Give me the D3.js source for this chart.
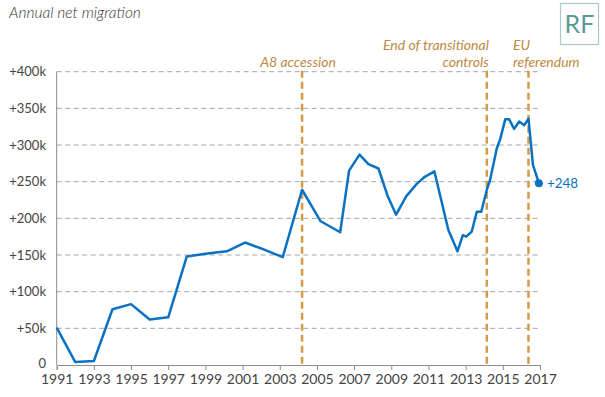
<!DOCTYPE html>
<html>
<head>
<meta charset="utf-8">
<script src="https://cdn.jsdelivr.net/npm/d3@7"></script>
<style>
  body { margin: 0; background: #fff; }
  text { font-family: Lato, "Open Sans", sans-serif; }
</style>
</head>
<body>
<div id="vis"></div>
<script>
// data (decimal years, thousands)
var years = [1991, 1992, 1993, 1994, 1995, 1996, 1997, 1998, 1999.1, 2000.15,
             2001.13, 2002.1, 2003.16, 2004.2, 2005.2, 2006.25, 2006.73, 2007.29, 2007.77, 2008.31,
             2008.81, 2009.26, 2009.8, 2010.37, 2010.82, 2011.32, 2012.07, 2012.56, 2012.85, 2013.03,
             2013.33, 2013.6, 2013.84, 2014.14, 2014.32, 2014.68, 2014.86, 2015.13, 2015.34, 2015.61,
             2015.88, 2016.15, 2016.38, 2016.62, 2016.94];
var netMigration = [51, 4, 5.5, 76, 83, 62, 65, 148, 152, 155,
                    167, 158, 147, 239, 196, 181, 265, 287, 274, 268,
                    230, 205, 230, 247, 257, 264, 184, 155, 177, 175,
                    182, 209, 209, 239, 253, 296, 308, 335, 335, 322,
                    332, 327, 336, 273, 248];
var xTicks = [1991, 1993, 1995, 1997, 1999, 2001, 2003, 2005, 2007, 2009, 2011, 2013, 2015, 2017];
var yTicks = [0, 50, 100, 150, 200, 250, 300, 350, 400];
var eventDates = [2004.2, 2014.14, 2016.38];
var eventLabels = [["A8 accession"], ["End of transitional", "controls"], ["EU", "referendum"]];
var lastLabel = "+248";

var w = 605, h = 397;
var mLeft = 56.7, mRight = 540, mTop = 71.7, mBottom = 365;

var svg = d3.select("#vis").append("svg")
    .attr("width", w)
    .attr("height", h);

var x = d3.scaleLinear().domain([1991, 2017]).range([mLeft, mRight]);
var y = d3.scaleLinear().domain([0, 400]).range([mBottom, mTop]);

// title
svg.append("text")
   .attr("x", 9).attr("y", 18)
   .attr("font-size", "15.5px")
   .attr("font-style", "italic")
   .attr("font-weight", 300)
   .attr("fill", "#333")
   .text("Annual net migration");

// RF logo
svg.append("rect")
   .attr("x", 560.5).attr("y", 3.5)
   .attr("width", 38).attr("height", 41)
   .attr("fill", "#fff")
   .attr("stroke", "#a8c8c6")
   .attr("stroke-width", 1.2);
svg.append("text")
   .attr("x", 579.5).attr("y", 33)
   .attr("text-anchor", "middle")
   .attr("font-size", "25px")
   .attr("fill", "#5e9896")
   .text("RF");

// gridlines
svg.selectAll("line.grid")
   .data(yTicks.filter(function(d) { return d > 0; }))
   .enter()
   .append("line")
   .attr("class", "grid")
   .attr("x1", mLeft).attr("x2", mRight)
   .attr("y1", function(d) { return y(d); })
   .attr("y2", function(d) { return y(d); })
   .attr("stroke", "#a6a6a6")
   .attr("stroke-dasharray", "5,3.5");

// y labels
svg.selectAll("text.ylab")
   .data(yTicks)
   .enter()
   .append("text")
   .attr("class", "ylab")
   .attr("x", 46)
   .attr("y", function(d) { return y(d) + (d === 0 ? 2.5 : 4.5); })
   .attr("text-anchor", "end")
   .attr("font-size", "13px")
   .attr("fill", "#444")
   .text(function(d) { return d === 0 ? "0" : "+" + d + "k"; });

// axes
var xAxis = svg.append("g")
   .attr("transform", "translate(0," + mBottom + ")")
   .call(d3.axisBottom(x).tickValues(xTicks).tickFormat(d3.format("d")).tickSize(5).tickPadding(4));
xAxis.select(".domain").attr("stroke", "#8c8c8c");
xAxis.selectAll(".tick line").attr("stroke", "#8c8c8c");
xAxis.selectAll(".tick text")
   .attr("font-family", "Lato, sans-serif")
   .attr("font-size", "14px")
   .attr("fill", "#444");

svg.append("line")
   .attr("x1", mLeft).attr("x2", mLeft)
   .attr("y1", mTop).attr("y2", mBottom)
   .attr("stroke", "#8c8c8c");

// event lines
svg.selectAll("line.event")
   .data(eventDates)
   .enter()
   .append("line")
   .attr("class", "event")
   .attr("x1", function(d) { return x(d); })
   .attr("x2", function(d) { return x(d); })
   .attr("y1", mTop - 1).attr("y2", mBottom)
   .attr("stroke", "#d49a45")
   .attr("stroke-width", 2.5)
   .attr("stroke-dasharray", "7,4");

// event labels
var labelAnchor = ["middle", "end", "start"];
var labelDx = [-4, 2, -15.5];
eventDates.forEach(function(d, i) {
    var lines = eventLabels[i];
    lines.forEach(function(t, j) {
        svg.append("text")
           .attr("x", x(d) + labelDx[i])
           .attr("y", 67 - (lines.length - 1 - j) * 17)
           .attr("text-anchor", labelAnchor[i])
           .attr("font-size", "14px")
           .attr("font-style", "italic")
           .attr("fill", "#bd8843")
           .text(t);
    });
});

// line
var pts = years.map(function(d, i) { return [d, netMigration[i]]; });
var line = d3.line()
   .x(function(d) { return x(d[0]); })
   .y(function(d) { return y(d[1]); });

svg.append("path")
   .datum(pts)
   .attr("d", line)
   .attr("fill", "none")
   .attr("stroke", "#0b72c2")
   .attr("stroke-width", 2.5)
   .attr("stroke-linejoin", "round");

var last = pts[pts.length - 1];
svg.append("circle")
   .attr("cx", x(last[0])).attr("cy", y(last[1]))
   .attr("r", 4)
   .attr("fill", "#0b72c2");
svg.append("text")
   .attr("x", x(last[0]) + 8).attr("y", y(last[1]) + 5)
   .attr("font-size", "13.5px")
   .attr("fill", "#0b72c2")
   .text(lastLabel);
</script>
</body>
</html>
